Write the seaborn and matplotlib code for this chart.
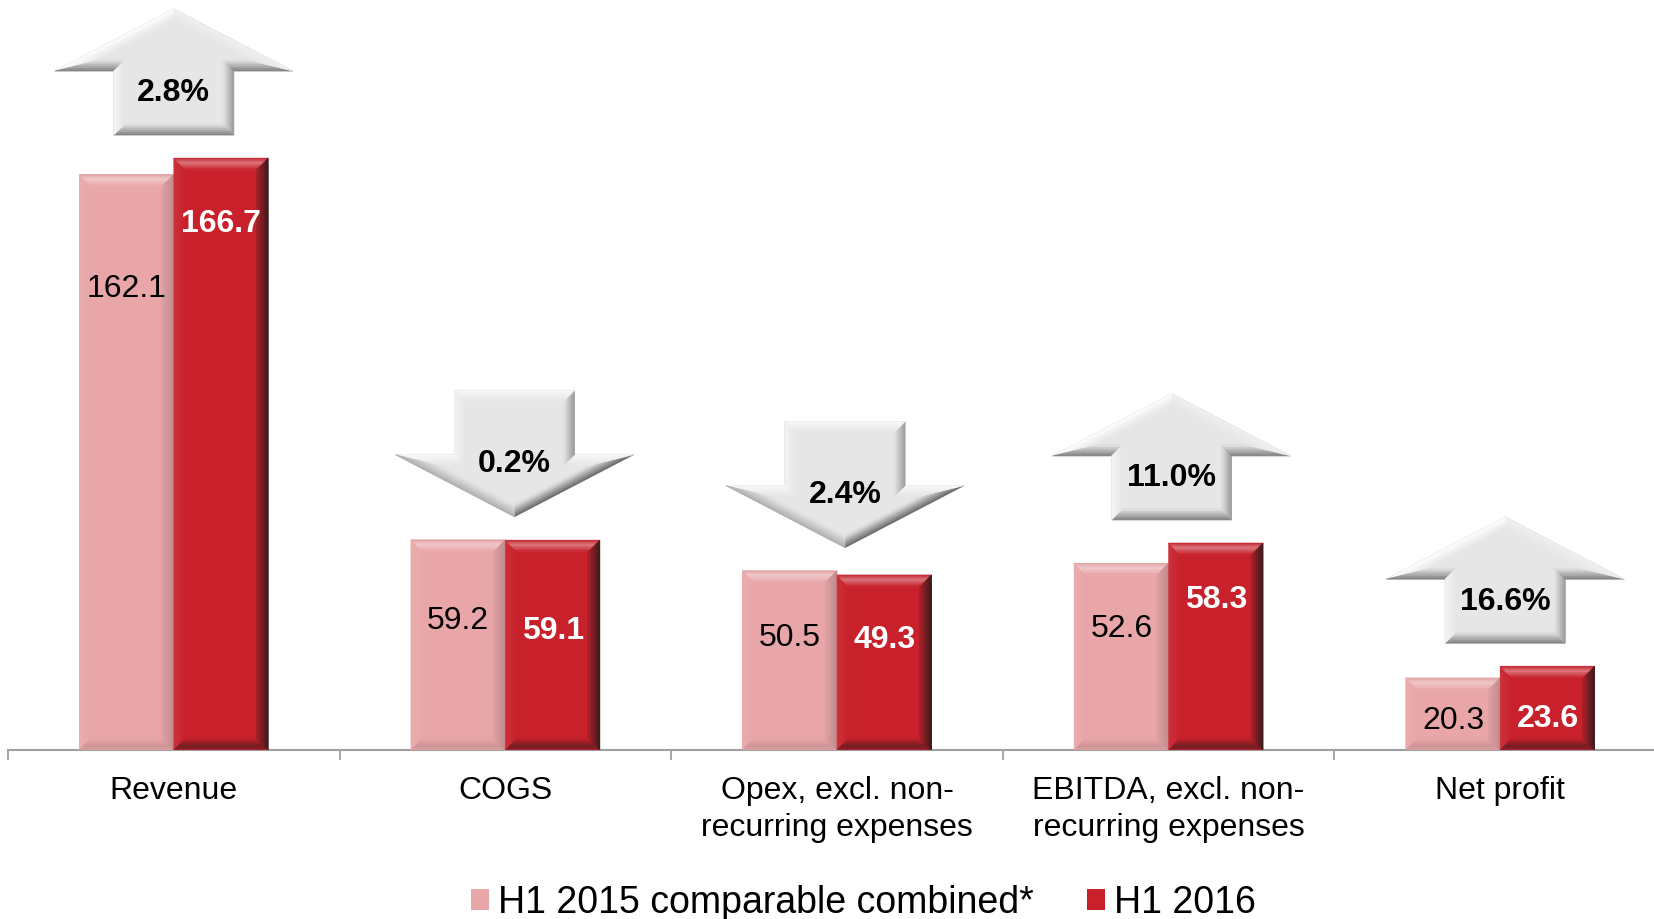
import numpy as np
import pandas as pd
import matplotlib
matplotlib.use("Agg")
import matplotlib.pyplot as plt
from matplotlib.patches import Polygon
from matplotlib.colors import to_rgb
import seaborn as sns

# ---- data -------------------------------------------------------------
categories = [
    "Revenue",
    "COGS",
    "Opex, excl. non-\nrecurring expenses",
    "EBITDA, excl. non-\nrecurring expenses",
    "Net profit",
]
series_names = ["H1 2015 comparable combined*", "H1 2016"]
h1_2015 = [162.1, 59.2, 50.5, 52.6, 20.3]
h1_2016 = [166.7, 59.1, 49.3, 58.3, 23.6]
change_labels = ["2.8%", "0.2%", "2.4%", "11.0%", "16.6%"]
change_up = [True, False, False, True, True]

# heights (data units) at which the value labels sit inside the bars
label_y_2015 = [131.0, 37.7, 32.7, 35.3, 9.3]
label_y_2016 = [149.4, 34.7, 32.1, 43.6, 10.1]

# ---- style ------------------------------------------------------------
PINK = "#E9A6A8"
RED = "#C8212B"
GREY = "#E6E6E6"
AXIS_GREY = "#A0A0A0"

sns.set_theme(style="white")
plt.rcParams["font.family"] = ["Liberation Sans", "DejaVu Sans"]

W, H = 1654, 920
fig = plt.figure(figsize=(W / 100, H / 100), dpi=100)
ax = fig.add_axes([8 / W, 169 / H, 1658 / W, 751 / H])

df = pd.DataFrame({
    "category": categories * 2,
    "period": [series_names[0]] * len(categories) + [series_names[1]] * len(categories),
    "value": h1_2015 + h1_2016,
})

sns.barplot(data=df, x="category", y="value", hue="period",
            order=categories, hue_order=series_names,
            palette=[PINK, RED], width=0.57, saturation=1,
            errorbar=None, linewidth=0, ax=ax)

ax.set_xlim(-0.5, 4.5)
ax.set_ylim(0, 211.5)

# pixels per data unit
p0 = ax.transData.transform((0, 0))
p1 = ax.transData.transform((1, 1))
sx, sy = p1[0] - p0[0], p1[1] - p0[1]


def mix(c1, c2, t):
    a, b = np.array(to_rgb(c1)), np.array(to_rgb(c2))
    return tuple((1 - t) * a + t * b)


def interp(stops, t):
    ts = [s[0] for s in stops]
    cs = np.array([to_rgb(s[1]) for s in stops])
    return tuple(np.interp(t, ts, cs[:, i]) for i in range(3))


def bevel_strips(P0, P1, Q1, Q0, stops, n=8, z=3.0):
    """Fill the quad between an outer edge P0-P1 and inner edge Q0-Q1 with a gradient."""
    P0, P1, Q0, Q1 = map(np.asarray, (P0, P1, Q0, Q1))
    for k in range(n):
        t0, t1 = k / n, (k + 1) / n
        a0 = P0 + (Q0 - P0) * t0
        b0 = P1 + (Q1 - P1) * t0
        a1 = P0 + (Q0 - P0) * t1
        b1 = P1 + (Q1 - P1) * t1
        c = interp(stops, (t0 + t1) / 2)
        ax.add_patch(Polygon([a0, b0, b1, a1], closed=True, fc=c, ec=c,
                             lw=0.4, zorder=z))


def bar_style(c, dark_right, dark_bottom):
    return {
        "top": [(0, mix(c, "k", 0.05)), (0.4, mix(c, "w", 0.4)), (1, c)],
        "left": [(0, mix(c, "w", 0.08)), (1, c)],
        "right": [(0, mix(c, "k", dark_right)), (1, mix(c, "k", dark_right * 0.2))],
        "bottom": [(0, mix(c, "k", dark_bottom * 0.4)), (0.35, mix(c, "k", dark_bottom)), (1, c)],
    }


styles = [bar_style(PINK, 0.2, 0.12), bar_style(RED, 0.85, 0.5)]

# bevelled look on every bar drawn by seaborn
bev = 12.0
bx, by = bev / sx, bev / sy
for s, cont in enumerate(ax.containers):
    st = styles[s]
    for bar in cont:
        x0, w, h = bar.get_x(), bar.get_width(), bar.get_height()
        BL, BR, TR, TL = (x0, 0), (x0 + w, 0), (x0 + w, h), (x0, h)
        iBL, iBR = (x0 + bx, by), (x0 + w - bx, by)
        iTR, iTL = (x0 + w - bx, h - by), (x0 + bx, h - by)
        bevel_strips(TL, BL, iBL, iTL, st["left"])
        bevel_strips(TR, TL, iTL, iTR, st["top"])
        bevel_strips(BL, BR, iBR, iBL, st["bottom"])
        bevel_strips(BR, TR, iTR, iBR, st["right"])

# ---- value labels -----------------------------------------------------
FS = 23
half_cap = 0.358 * FS * 100 / 72  # px
for s, cont in enumerate(ax.containers):
    ys = label_y_2015 if s == 0 else label_y_2016
    vals = h1_2015 if s == 0 else h1_2016
    for bar, yl, v in zip(cont, ys, vals):
        xc = bar.get_x() + bar.get_width() / 2
        ax.text(xc, yl - half_cap / sy, f"{v:.1f}", ha="center", va="baseline",
                fontsize=FS, color="black" if s == 0 else "white",
                fontweight="normal" if s == 0 else "bold", zorder=6)

# ---- change arrows ----------------------------------------------------
HW, SW, HH, TOT = 119.0, 60.0, 62.0, 126.0   # px
up_shape = [(-SW, 0), (SW, 0), (SW, TOT - HH), (HW, TOT - HH), (0, TOT),
            (-HW, TOT - HH), (-SW, TOT - HH)]
down_shape = [(0, 0), (HW, HH), (SW, HH), (SW, TOT), (-SW, TOT), (-SW, HH),
              (-HW, HH)]
arrow_dx_px = [0, 9, 8, 3, 5]
gap = 6.5
light = np.array([-0.6, 0.8])


def inset(poly, d):
    V = np.asarray(poly, float)
    n = len(V)
    out = []
    for i in range(n):
        a, b, c = V[i - 1], V[i], V[(i + 1) % n]
        e1, e2 = b - a, c - b
        n1 = np.array([-e1[1], e1[0]]) / np.hypot(*e1)
        n2 = np.array([-e2[1], e2[0]]) / np.hypot(*e2)
        p, q = b + d * n1, b + d * n2
        M = np.array([e1, -e2]).T
        if abs(np.linalg.det(M)) < 1e-9:
            out.append(p)
        else:
            t = np.linalg.solve(M, q - p)
            out.append(p + t[0] * e1)
    return np.array(out)


for i in range(len(categories)):
    top_val = max(h1_2015[i], h1_2016[i])
    y0 = top_val + gap
    xc = i + arrow_dx_px[i] / sx
    shape = np.array(up_shape if change_up[i] else down_shape, float)
    inner = inset(shape, 11.0)

    def to_data(P):
        P = np.asarray(P, float)
        return np.column_stack([xc + P[:, 0] / sx, y0 + P[:, 1] / sy])

    outer_d, inner_d = to_data(shape), to_data(inner)
    ax.add_patch(Polygon(outer_d, closed=True, fc=GREY, ec="#C4C4C4", lw=0.6,
                         zorder=3))
    n = len(shape)
    for k in range(n):
        a, b = shape[k], shape[(k + 1) % n]
        e = b - a
        nout = np.array([e[1], -e[0]]) / np.hypot(*e)
        it = float(nout @ light)
        if it >= 0:
            oc = mix(GREY, "w", min(1.0, it))
        else:
            oc = mix(GREY, "#4A4A4A", -it * 0.85)
        bevel_strips(outer_d[k], outer_d[(k + 1) % n],
                     inner_d[(k + 1) % n], inner_d[k],
                     [(0, oc), (1, GREY)], n=6, z=3.2)
    text_px = 46 if change_up[i] else 57
    ax.text(xc, y0 + (text_px - half_cap) / sy, change_labels[i],
            ha="center", va="baseline", fontsize=FS, fontweight="bold",
            color="black", zorder=6)

# ---- axes -------------------------------------------------------------
ax.set_xticks(range(len(categories)))
ax.set_xticklabels(categories, fontsize=FS, color="black")
for tick in ax.xaxis.get_major_ticks():
    tick.label1.set_linespacing(1.3)
ax.set_xticks(np.arange(-0.5, len(categories) + 0.5, 1), minor=True)
ax.tick_params(axis="x", which="major", length=0, pad=18)
ax.tick_params(axis="x", which="minor", length=7.5, width=1.3,
               color=AXIS_GREY, direction="out", bottom=True)
ax.set_yticks([])
ax.set_xlabel("")
ax.set_ylabel("")
sns.despine(ax=ax, left=True)
ax.spines["bottom"].set_color(AXIS_GREY)
ax.spines["bottom"].set_linewidth(1.5)

sns.move_legend(ax, "center", bbox_to_anchor=(0.522, 0.018),
                bbox_transform=fig.transFigure, ncol=2, frameon=False,
                title=None, fontsize=27, handlelength=0.48, handleheight=0.48,
                handletextpad=0.25, columnspacing=1.4, borderpad=0,
                borderaxespad=0, labelcolor="black")

fig.savefig("out.png", dpi=100)
